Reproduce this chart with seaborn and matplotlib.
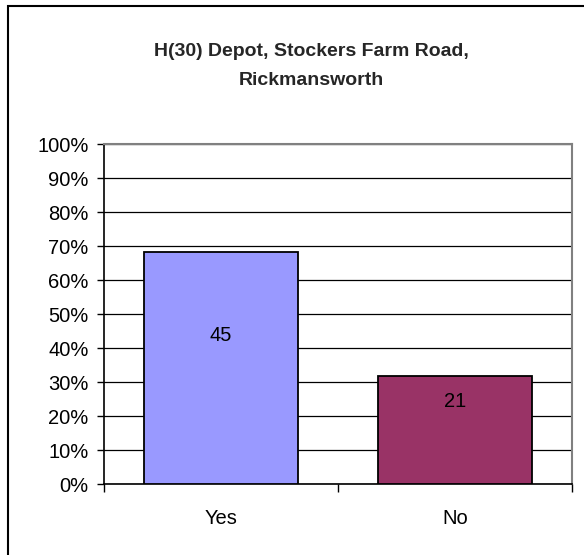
import matplotlib
matplotlib.use("Agg")
import matplotlib.pyplot as plt
import seaborn as sns
import pandas as pd
from matplotlib.patches import Rectangle
from matplotlib.ticker import MultipleLocator, FuncFormatter

title = "H(30) Depot, Stockers Farm Road,\nRickmansworth"
categories = ["Yes", "No"]
counts = [45, 21]
colors = ["#9999FF", "#993366"]

total = sum(counts)
pct = [c / total * 100 for c in counts]
df = pd.DataFrame({"answer": categories, "pct": pct})

sns.set_theme(style="white")
plt.rcParams["font.family"] = ["Liberation Sans", "DejaVu Sans"]

fig = plt.figure(figsize=(5.84, 5.55), dpi=100)
ax = fig.add_axes([104 / 584, 1 - 484 / 555, (572 - 104) / 584, (484 - 144) / 555])

sns.barplot(data=df, x="answer", y="pct", hue="answer", palette=colors,
            saturation=1, width=0.66, edgecolor="black", linewidth=1.3,
            legend=False, ax=ax, zorder=3)

ax.set_ylim(0, 100)
ax.set_xlim(-0.5, 1.5)
ax.yaxis.set_major_locator(MultipleLocator(10))
ax.yaxis.set_major_formatter(FuncFormatter(lambda v, p: f"{int(round(v))}%"))
ax.grid(axis="y", color="black", linewidth=0.9, zorder=0)
ax.grid(axis="x", visible=False)
ax.set_axisbelow(True)

ax.set_xlabel("")
ax.set_ylabel("")
ax.tick_params(axis="y", left=True, length=5, width=1, color="black",
               labelsize=14.5, pad=6, labelcolor="black")
ax.set_xticks([0, 1])
ax.set_xticklabels(categories)
ax.tick_params(axis="x", bottom=False, labelsize=14.5, pad=12, labelcolor="black")
ax.set_xticks([-0.5, 0.5, 1.5], minor=True)
ax.tick_params(axis="x", which="minor", bottom=True, length=6, width=1, color="black")

for s in ["left", "bottom"]:
    ax.spines[s].set_color("black")
    ax.spines[s].set_linewidth(1.2)
for s in ["top", "right"]:
    ax.spines[s].set_color("#808080")
    ax.spines[s].set_linewidth(1.5)

# count labels inside bars
label_y = [43.7, 24.2]
for i, (c, y) in enumerate(zip(counts, label_y)):
    ax.text(i, y, str(c), ha="center", va="center", fontsize=14.5, color="black", zorder=5)

fig.text(311 / 584, 1 - 66 / 555, title, ha="center", va="center", fontsize=14,
         fontweight="bold", linespacing=1.9)

fig.patches.append(Rectangle((8 / 584, -0.1), 1.2, 1 - 6 / 555 + 0.1,
                             transform=fig.transFigure, fill=False,
                             edgecolor="black", linewidth=1.5))

fig.savefig("out.png", dpi=100, facecolor="white")
